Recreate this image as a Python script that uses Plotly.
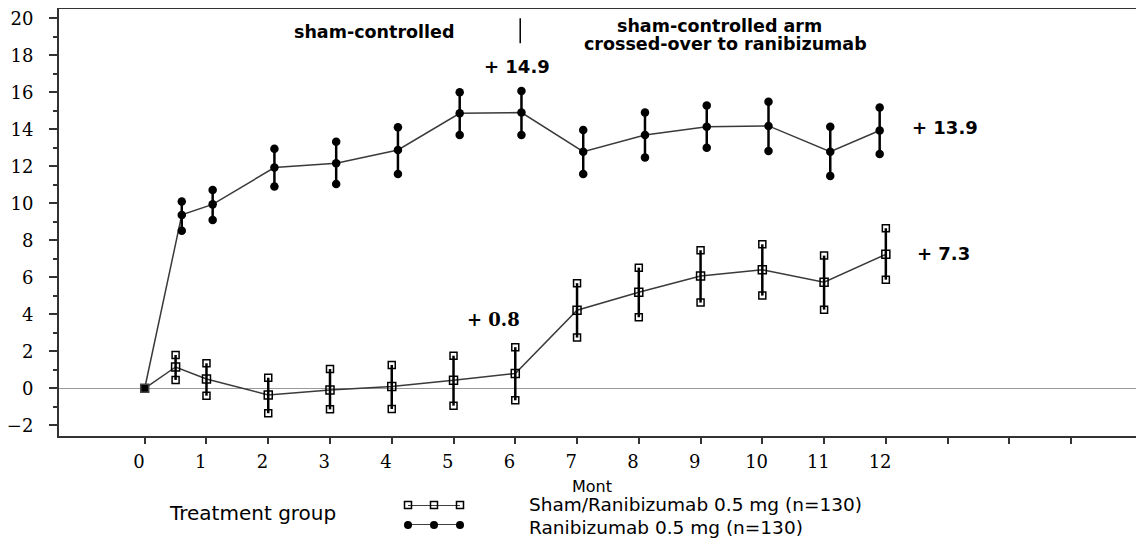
import plotly.graph_objects as go

# ---------------- data ----------------
months_sham = [0, 0.5, 1, 2, 3, 4, 5, 6, 7, 8, 9, 10, 11, 12]
sham_mean = [0, 1.15, 0.5, -0.36, -0.09, 0.09, 0.43, 0.8, 4.22, 5.19, 6.07, 6.41, 5.73, 7.24]
sham_upper = [None, 1.8, 1.35, 0.57, 1.04, 1.26, 1.76, 2.22, 5.68, 6.52, 7.46, 7.78, 7.17, 8.65]
sham_lower = [None, 0.45, -0.4, -1.35, -1.14, -1.12, -0.94, -0.65, 2.74, 3.84, 4.63, 5.01, 4.25, 5.87]

months_rani = [0, 0.6, 1.1, 2.1, 3.1, 4.1, 5.1, 6.1, 7.1, 8.1, 9.1, 10.1, 11.1, 11.9]
rani_mean = [0, 9.37, 9.94, 11.93, 12.16, 12.88, 14.86, 14.9, 12.79, 13.69, 14.14, 14.18, 12.79, 13.93]
rani_upper = [None, 10.09, 10.72, 12.95, 13.33, 14.11, 16.0, 16.07, 13.96, 14.9, 15.28, 15.49, 14.14, 15.17]
rani_lower = [None, 8.52, 9.1, 10.9, 11.04, 11.58, 13.69, 13.69, 11.58, 12.47, 13.0, 12.83, 11.48, 12.66]

x_tick_values = list(range(0, 16))
x_tick_labels = [str(v) for v in range(0, 13)] + ["", "", ""]
y_tick_values = list(range(-2, 21, 2))

legend_labels = ["Sham/Ranibizumab 0.5 mg (n=130)", "Ranibizumab 0.5 mg (n=130)"]

# ---------------- geometry ----------------
# The page body has the browser's default 8px margin, so the figure is drawn
# 8px right/down of the window origin; positions below are window pixels.
BODY = 8
WIN_W, WIN_H = 1144, 538
W, H = WIN_W - BODY, WIN_H - BODY
PLOT_LEFT, PLOT_TOP, PLOT_BOTTOM = 59, 9, 436
ML, MR, MT, MB = PLOT_LEFT - BODY, 0, PLOT_TOP - BODY, 0
PW, PH = W - ML - MR, H - MT - MB


def px(xp):
    return (xp - BODY - ML) / PW


def py(yp):
    return (H - MB - (yp - BODY)) / PH


def bars(xs, lo, hi):
    bx, by = [], []
    for x, l, h in zip(xs, lo, hi):
        if l is None:
            continue
        bx += [x, x, None]
        by += [l, h, None]
    return bx, by


fig = go.Figure()

# connecting lines
fig.add_trace(go.Scatter(x=months_sham, y=sham_mean, mode="lines",
                         line=dict(color="#3a3a3a", width=1.5), showlegend=False,
                         hoverinfo="skip"))
fig.add_trace(go.Scatter(x=months_rani, y=rani_mean, mode="lines",
                         line=dict(color="#3a3a3a", width=1.5), showlegend=False,
                         hoverinfo="skip"))

# error bars
bx, by = bars(months_sham, sham_lower, sham_upper)
fig.add_trace(go.Scatter(x=bx, y=by, mode="lines+markers",
                         line=dict(color="black", width=2.5),
                         marker=dict(symbol="square-open", size=7, color="black",
                                     line=dict(width=1.5)),
                         showlegend=False, hoverinfo="skip"))
bx, by = bars(months_rani, rani_lower, rani_upper)
fig.add_trace(go.Scatter(x=bx, y=by, mode="lines+markers",
                         line=dict(color="black", width=2.5),
                         marker=dict(symbol="circle", size=8.5, color="black"),
                         showlegend=False, hoverinfo="skip"))

# mean markers
fig.add_trace(go.Scatter(x=months_rani, y=rani_mean, mode="markers",
                         marker=dict(symbol="circle", size=8.5, color="black"),
                         showlegend=False))
fig.add_trace(go.Scatter(x=months_sham, y=sham_mean, mode="markers",
                         marker=dict(symbol=["square"] + ["square-open"] * (len(sham_mean) - 1),
                                     size=8, color="black", line=dict(width=1.5)),
                         showlegend=False))

# legend samples on a hidden helper axis
fig.add_trace(go.Scatter(x=[0, 1, 2], y=[1, 1, 1], xaxis="x2", yaxis="y2",
                         mode="lines+markers", line=dict(color="black", width=1.5),
                         marker=dict(symbol="square-open", size=7, color="black",
                                     line=dict(width=1.5)),
                         cliponaxis=False, showlegend=False))
fig.add_trace(go.Scatter(x=[0, 1, 2], y=[0, 0, 0], xaxis="x2", yaxis="y2",
                         mode="lines+markers", line=dict(color="black", width=1.5),
                         marker=dict(symbol="circle", size=8, color="black"),
                         cliponaxis=False, showlegend=False))

tick_font = dict(family="DejaVu Serif", size=18, color="black")
sans = "DejaVu Sans"

fig.update_layout(
    width=W, height=H,
    margin=dict(l=ML, r=MR, t=MT, b=MB, pad=0, autoexpand=False),
    paper_bgcolor="white", plot_bgcolor="white",
    showlegend=False,
    xaxis=dict(
        domain=[0, 1],
        range=[-1.388, 16.18],
        tickmode="array", tickvals=x_tick_values,
        ticktext=[t + "\u00a0\u00a0" if t else t for t in x_tick_labels],
        ticks="outside", ticklen=6, tickwidth=1.5, tickcolor="#333",
        showline=True, linecolor="#333", linewidth=2, mirror=True,
        showgrid=False, zeroline=False, automargin=False,
        tickfont=tick_font, ticklabelstandoff=2, ticklabeloverflow="allow",
    ),
    yaxis=dict(
        domain=[py(PLOT_BOTTOM), 1],
        range=[-2.58, 20.5],
        tickmode="array", tickvals=y_tick_values,
        ticks="outside", ticklen=8, tickwidth=1.5, tickcolor="#333",
        minor=dict(ticks="outside", ticklen=4, dtick=1, tick0=0,
                   tickwidth=1.5, tickcolor="#333"),
        showline=True, linecolor="#333", linewidth=2, mirror=False,
        showgrid=False, automargin=False,
        zeroline=True, zerolinecolor="#9a9a9a", zerolinewidth=1,
        tickfont=tick_font, ticklabelstandoff=12, ticklabeloverflow="allow",
    ),
    xaxis2=dict(domain=[px(408), px(460)], range=[0, 2], visible=False,
                anchor="y2", fixedrange=True),
    yaxis2=dict(domain=[py(525), py(505)], range=[0, 1], visible=False,
                anchor="x2", fixedrange=True),
)

# divider line between periods
fig.add_shape(type="line", xref="x", yref="y", x0=6.08, x1=6.08, y0=18.65, y1=20.0,
              line=dict(color="black", width=1.5))

bold_font = dict(family=sans, size=17.5, color="black")
ann = [
    dict(text="<b>sham-controlled</b>", x=3.72, y=19.26, font=bold_font),
    dict(text="<b>sham-controlled arm</b>", x=9.3, y=19.58, font=bold_font),
    dict(text="<b>crossed-over to ranibizumab</b>", x=9.4, y=18.6, font=bold_font),
    dict(text="<b>+ 14.9</b>", x=6.02, y=17.37, font=dict(family=sans, size=18, color="black")),
    dict(text="<b>+ 13.9</b>", x=12.95, y=14.12, font=dict(family=sans, size=18, color="black")),
    dict(text="<b>+ 7.3</b>", x=12.94, y=7.31, font=dict(family=sans, size=18, color="black")),
    dict(text="<b>+ 0.8</b>", x=5.65, y=3.7, font=dict(family="DejaVu Serif", size=18, color="black")),
]
for a in ann:
    fig.add_annotation(xref="x", yref="y", showarrow=False, xanchor="center",
                       yanchor="middle", **a)

paper_notes = [
    dict(text="Mont", x=px(592), y=py(486), xanchor="center",
         font=dict(family=sans, size=16, color="black")),
    dict(text="Treatment group", x=px(167), y=py(513), xanchor="left",
         font=dict(family=sans, size=20, color="black")),
    dict(text=legend_labels[0], x=px(527), y=py(504), xanchor="left",
         font=dict(family=sans, size=18.5, color="black")),
    dict(text=legend_labels[1], x=px(527), y=py(527), xanchor="left",
         font=dict(family=sans, size=18.5, color="black")),
]
for a in paper_notes:
    fig.add_annotation(xref="paper", yref="paper", showarrow=False, yanchor="middle", **a)

fig.write_html("out.html")
